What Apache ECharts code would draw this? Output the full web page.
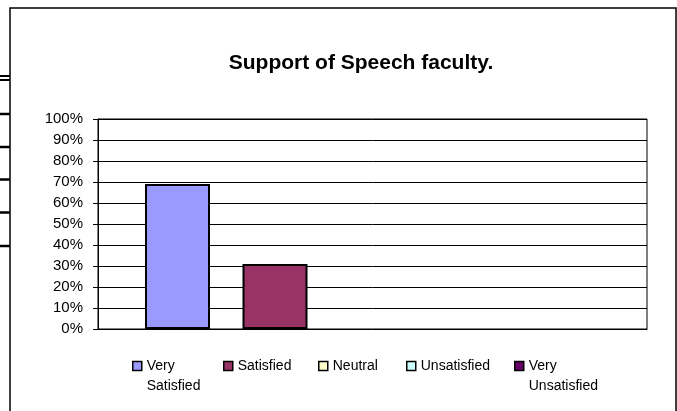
<!DOCTYPE html>
<html>
<head>
<meta charset="utf-8">
<script src="https://cdn.jsdelivr.net/npm/echarts@6/dist/echarts.min.js"></script>
<style>
  html, body { margin: 0; padding: 0; background: #fff; }
  #chart { width: 677px; height: 411px; }
</style>
</head>
<body>
<div id="chart"></div>
<script>
var categories = ['']
var seriesNames = ['Very Satisfied', 'Satisfied', 'Neutral', 'Unsatisfied', 'Very Unsatisfied']
var seriesValues = [69, 31, 0, 0, 0]
var seriesColors = ['#9999FF', '#993366', '#FFFFCC', '#CCFFFF', '#660066']
var yTicks = [0, 10, 20, 30, 40, 50, 60, 70, 80, 90, 100]

// legend item positions (left of icon) as in the original
var legendLeft = [132, 223, 318, 406, 514]

var myChart = echarts.init(document.getElementById('chart'))

var series = seriesNames.map(function (name, i) {
  return {
    name: name,
    type: 'bar',
    data: [seriesValues[i]],
    barWidth: 65,
    barGap: '50%',
    itemStyle: { color: seriesColors[i], borderColor: '#000', borderWidth: seriesValues[i] ? 2 : 0 }
  }
})

var legends = seriesNames.map(function (name, i) {
  var twoLine = name.indexOf(' ') > 0
  return {
    data: [name],
    left: legendLeft[i],
    top: twoLine ? 336 : 356,
    padding: 0,
    itemWidth: 9,
    itemHeight: 9,
    icon: 'rect',
    itemStyle: { borderColor: '#000', borderWidth: 1.5 },
    // blank first line so the icon sits next to the first word
    formatter: function (n) { return n.indexOf(' ') > 0 ? ' \n' + n.replace(' ', '\n') : n },
    textStyle: { fontFamily: 'Liberation Sans', fontSize: 14, color: '#000', lineHeight: 20 }
  }
})

myChart.setOption({
  animation: false,
  backgroundColor: '#fff',
  title: {
    text: 'Support of Speech faculty.',
    left: 356,
    top: 48,
    textAlign: 'center',
    textStyle: { fontFamily: 'Liberation Sans', fontSize: 21, fontWeight: 'bold', color: '#000' }
  },
  legend: legends,
  grid: {
    left: 98, top: 119, right: 30, bottom: 82,
    show: true, borderColor: '#000', borderWidth: 1
  },
  xAxis: {
    type: 'category',
    data: categories,
    axisLine: { lineStyle: { color: '#000', width: 1 } },
    axisTick: { show: false },
    axisLabel: { show: false }
  },
  yAxis: {
    type: 'value',
    min: yTicks[0],
    max: yTicks[yTicks.length - 1],
    interval: 10,
    axisLine: { show: true, lineStyle: { color: '#000', width: 1 } },
    axisTick: { show: true, length: 5, lineStyle: { color: '#000' } },
    axisLabel: {
      formatter: '{value}%', margin: 15, color: '#000',
      fontFamily: 'Liberation Sans', fontSize: 15
    },
    splitLine: { lineStyle: { color: '#000', width: 1 } }
  },
  series: series,
  graphic: [
    { type: 'rect', shape: { x: 10, y: 8, width: 666, height: 420 }, style: { fill: 'none', stroke: '#000', lineWidth: 1.5 }, z: -1 },
    // bits of a table peeking out at the left edge
    { type: 'line', shape: { x1: 0, y1: 76, x2: 10, y2: 76 }, style: { stroke: '#000', lineWidth: 2 } },
    { type: 'line', shape: { x1: 0, y1: 80, x2: 10, y2: 80 }, style: { stroke: '#000', lineWidth: 2 } },
    { type: 'line', shape: { x1: 0, y1: 114, x2: 10, y2: 114 }, style: { stroke: '#000', lineWidth: 2.5 } },
    { type: 'line', shape: { x1: 0, y1: 147, x2: 10, y2: 147 }, style: { stroke: '#000', lineWidth: 2.5 } },
    { type: 'line', shape: { x1: 0, y1: 179.5, x2: 10, y2: 179.5 }, style: { stroke: '#000', lineWidth: 2.5 } },
    { type: 'line', shape: { x1: 0, y1: 212.5, x2: 10, y2: 212.5 }, style: { stroke: '#000', lineWidth: 2.5 } },
    { type: 'line', shape: { x1: 0, y1: 246, x2: 10, y2: 246 }, style: { stroke: '#000', lineWidth: 2.5 } }
  ]
})
</script>
</body>
</html>
